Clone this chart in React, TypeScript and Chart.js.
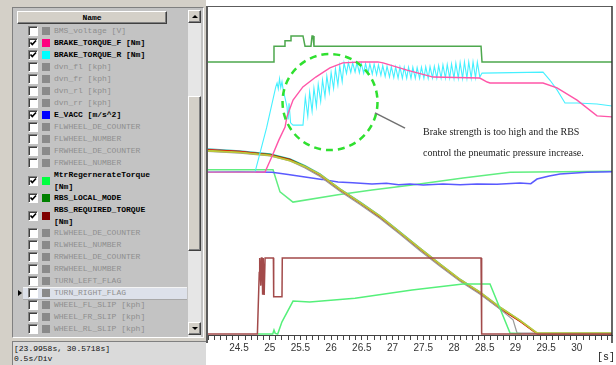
import React, { useEffect, useRef } from 'react';
import { Chart, registerables } from 'chart.js';

Chart.register(...registerables);

type P = [number, number];

// ---------- axis ----------
const X_MIN = 23.9958;
const X_MAX = 30.5718;
const TICK_STEP = 0.1;
const LABEL_FIRST = 24.5;
const LABEL_LAST = 30;
const RANGE_TEXT = '[23.9958s, 30.5718s]';
const DIV_TEXT = '0.5s/Div';
const X_UNIT = '[s]';

// ---------- series (time s, % of full scale) ----------
const rbsLocalMode: P[] = [
  [23.9958, 83.0], [25.07, 83.0], [25.07, 87.8], [25.249, 87.8], [25.249, 89.4], [25.347, 89.4],
  [25.347, 90.9], [25.542, 90.9], [25.575, 87.8], [25.672, 87.8], [25.689, 90.9], [25.705, 90.9],
  [25.721, 87.8], [28.44, 87.8], [28.456, 83.0], [30.5718, 83.0],
];

const brakeTorqueR: P[] = [
  [23.9958, 49.5], [24.761, 49.5], [24.95, 63.0], [25.10, 75.5], [25.12, 76.6], [25.14, 74.8],
  [25.16, 77.9], [25.18, 75.2], [25.20, 77.0], [25.217, 74.8], [25.282, 69.3], [25.30, 65.5],
  [25.315, 70.4], [25.34, 64.5], [25.38, 63.8], [25.542, 63.8],
  [25.58, 72.3], [25.62, 66.5], [25.65, 73.8], [25.69, 68.0], [25.72, 75.0], [25.76, 69.5],
  [25.79, 76.2], [25.83, 71.0], [25.86, 77.5], [25.90, 72.5], [25.93, 78.7], [25.97, 73.8],
  [26.00, 79.8], [26.04, 75.0], [26.07, 80.9], [26.11, 76.0], [26.14, 81.8], [26.18, 77.0],
  [26.21, 82.7], [26.25, 79.5], [26.28, 82.8], [26.32, 79.8], [26.35, 82.7], [26.39, 79.9],
  [26.42, 82.8], [26.46, 79.7], [26.49, 82.6], [26.53, 79.6], [26.56, 82.5], [26.60, 79.5],
  [26.63, 82.4], [26.67, 79.3], [26.70, 82.3], [26.74, 79.1], [26.77, 82.1], [26.81, 78.9],
  [26.84, 81.9], [26.88, 78.6], [26.91, 81.7], [26.95, 78.4], [26.98, 81.6], [27.02, 78.2],
  [27.05, 81.5], [27.09, 78.1], [27.12, 81.5], [27.16, 78.0], [27.19, 81.4], [27.23, 78.0],
  [27.26, 81.4], [27.30, 78.0], [27.33, 81.4], [27.37, 78.0], [27.40, 81.3], [27.44, 78.0],
  [27.47, 81.4], [27.51, 78.0], [27.54, 81.5], [27.58, 78.0], [27.61, 81.6], [27.65, 78.1],
  [27.68, 81.7], [27.72, 78.1], [27.75, 81.9], [27.79, 78.1], [27.82, 82.1], [27.86, 78.1],
  [27.89, 82.2], [27.93, 78.1], [27.96, 82.4], [28.00, 78.0], [28.03, 82.6], [28.07, 78.0],
  [28.10, 82.8], [28.14, 78.0], [28.17, 83.0], [28.21, 78.0], [28.24, 83.0], [28.28, 78.1],
  [28.31, 83.0], [28.35, 78.2], [28.38, 82.9], [28.42, 78.4], [28.45, 79.4],
  [28.456, 79.6], [29.449, 79.9], [29.56, 77.5], [29.677, 74.5], [29.807, 70.5], [30.003, 70.5],
  [30.328, 70.2], [30.5718, 69.6],
];

const brakeTorqueF: P[] = [
  [23.9958, 49.5], [24.924, 49.5], [25.04, 54.4], [25.15, 59.3], [25.25, 63.2], [25.28, 66.3],
  [25.38, 71.4], [25.54, 75.4], [25.75, 78.4], [25.98, 81.2], [26.19, 82.7], [26.47, 83.0],
  [26.76, 83.0], [26.845, 82.7], [27.235, 80.5], [27.66, 78.4], [28.42, 78.1], [28.54, 76.9],
  [28.586, 76.6], [29.449, 76.6], [29.677, 75.1], [30.003, 71.4], [30.328, 66.6], [30.5718, 66.3],
];

const rbsRequiredTorque: P[] = [
  [23.9958, 0.3], [24.80, 0.3], [24.83, 19.0], [24.835, 21.0], [24.84, 23.4], [24.855, 15.0],
  [24.865, 23.4], [24.875, 23.4], [24.88, 12.2], [24.89, 12.2], [24.895, 23.4], [24.905, 23.4],
  [24.91, 12.2], [24.92, 12.2], [24.925, 23.4], [25.06, 23.4], [25.065, 11.6], [25.20, 11.6],
  [25.205, 23.4], [28.44, 23.4], [28.45, 0.3], [30.5718, 0.3],
];

const mtrRegenTorque: P[] = [
  [24.81, 0.3], [25.05, 0.3], [25.07, 1.5], [25.09, 0.5], [25.13, 0.3], [25.20, 4.0],
  [25.38, 10.3], [25.65, 10.0], [26.389, 11.2], [27.317, 13.7], [28.147, 15.5], [28.586, 15.5],
  [28.912, 0.6], [29.1, 0.4],
];

const greenUpper: P[] = [
  [23.9958, 50.2], [25.054, 50.2], [25.168, 43.5], [25.379, 40.4], [26.112, 42.6], [26.665, 44.1],
  [27.317, 45.6], [28.147, 47.7], [28.912, 49.5], [30.5718, 49.8],
];

const eVacc: P[] = [
  [23.9958, 49.5], [24.5, 49.6], [25.038, 49.5], [25.3, 48.8], [25.575, 48.0], [25.85, 47.3],
  [26.112, 46.5], [26.35, 46.3], [26.665, 45.9], [26.9, 46.1], [27.1, 45.7], [27.284, 45.9],
  [27.5, 45.6], [27.82, 45.9], [28.1, 45.7], [28.375, 45.9], [28.7, 45.8], [29.075, 46.2],
  [29.25, 46.0], [29.351, 47.4], [29.55, 48.3], [29.726, 48.9], [30.165, 49.5], [30.5718, 49.6],
];

const wheelFL: P[] = [
  [23.9958, 56.4], [24.517, 55.8], [25.005, 54.8], [25.331, 53.3], [25.575, 51.0], [25.819, 48.5],
  [26.145, 44.0], [26.47, 40.0], [26.796, 35.7], [27.121, 30.9], [27.447, 26.0], [27.772, 21.2],
  [28.098, 16.6], [28.424, 12.6], [28.749, 8.0], [29.075, 4.1], [29.351, 0.3], [30.5718, 0.3],
];
const wheelFR: P[] = [
  [23.9958, 56.0], [24.517, 55.5], [25.005, 54.6], [25.331, 53.0], [25.575, 51.2], [25.819, 48.8],
  [26.145, 44.3], [26.47, 40.3], [26.796, 36.1], [27.121, 31.2], [27.447, 26.3], [27.772, 21.5],
  [28.098, 16.9], [28.424, 13.0], [28.749, 8.4], [29.075, 4.4], [29.351, 0.6], [30.5718, 0.6],
];
const wheelRL: P[] = [
  [23.9958, 56.2], [24.517, 55.7], [25.005, 54.9], [25.331, 53.4], [25.575, 51.3], [25.819, 48.7],
  [26.145, 44.2], [26.47, 40.1], [26.796, 35.8], [27.121, 31.0], [27.447, 26.1], [27.772, 21.3],
  [28.098, 16.7], [28.424, 12.8], [28.749, 8.2], [29.075, 4.2], [29.351, 0.4], [30.5718, 0.4],
];
const wheelRR: P[] = [
  [23.9958, 55.8], [24.517, 55.3], [25.005, 54.4], [25.331, 52.9], [25.575, 50.8], [25.819, 48.2],
  [26.145, 43.7], [26.47, 39.7], [26.796, 35.4], [27.121, 30.6], [27.447, 25.6], [27.772, 20.9],
  [28.098, 16.3], [28.424, 12.4], [28.749, 7.9], [28.961, 4.6], [29.026, 0.6], [29.351, 0.6],
];
const wheelRef: P[] = [
  [23.9958, 56.6], [24.517, 56.0], [25.005, 55.1], [25.331, 53.6], [25.575, 51.5], [25.819, 49.0],
  [26.145, 44.5], [26.47, 40.5], [26.796, 36.3], [27.121, 31.4], [27.447, 26.5], [27.772, 21.7],
  [28.098, 17.0], [28.424, 13.1], [28.749, 8.5], [29.075, 4.5], [29.351, 0.6], [30.5718, 0.6],
];

// ---------- legend list ----------
type Row = { lines: string[]; checked: boolean; color: string; selected?: boolean };
const GREY = '#8a8a8a';
const legendRows: Row[] = [
  { lines: ['BMS_voltage [V]'], checked: false, color: GREY },
  { lines: ['BRAKE_TORQUE_F [Nm]'], checked: true, color: '#ff0080' },
  { lines: ['BRAKE_TORQUE_R [Nm]'], checked: true, color: '#00ffff' },
  { lines: ['dvn_fl [kph]'], checked: false, color: GREY },
  { lines: ['dvn_fr [kph]'], checked: false, color: GREY },
  { lines: ['dvn_rl [kph]'], checked: false, color: GREY },
  { lines: ['dvn_rr [kph]'], checked: false, color: GREY },
  { lines: ['E_VACC [m/s^2]'], checked: true, color: '#0000ff' },
  { lines: ['FLWHEEL_DE_COUNTER'], checked: false, color: GREY },
  { lines: ['FLWHEEL_NUMBER'], checked: false, color: GREY },
  { lines: ['FRWHEEL_DE_COUNTER'], checked: false, color: GREY },
  { lines: ['FRWHEEL_NUMBER'], checked: false, color: GREY },
  { lines: ['MtrRegernerateTorque', '[Nm]'], checked: true, color: '#00ff40' },
  { lines: ['RBS_LOCAL_MODE'], checked: true, color: '#008000' },
  { lines: ['RBS_REQUIRED_TORQUE', '[Nm]'], checked: true, color: '#800000' },
  { lines: ['RLWHEEL_DE_COUNTER'], checked: false, color: GREY },
  { lines: ['RLWHEEL_NUMBER'], checked: false, color: GREY },
  { lines: ['RRWHEEL_DE_COUNTER'], checked: false, color: GREY },
  { lines: ['RRWHEEL_NUMBER'], checked: false, color: GREY },
  { lines: ['TURN_LEFT_FLAG'], checked: false, color: GREY },
  { lines: ['TURN_RIGHT_FLAG'], checked: false, color: GREY, selected: true },
  { lines: ['WHEEL_FL_SLIP [kph]'], checked: false, color: GREY },
  { lines: ['WHEEL_FR_SLIP [kph]'], checked: false, color: GREY },
  { lines: ['WHEEL_RL_SLIP [kph]'], checked: false, color: GREY },
];

const NOTE_LINES = [
  'Brake strength is too high and the RBS',
  'control the pneumatic pressure increase.',
];

const MONO = '"Liberation Mono", "DejaVu Sans Mono", monospace';

function ds(label: string, pts: P[], color: string, width = 1.5) {
  return {
    label,
    data: pts.map(([x, y]) => ({ x, y })),
    borderColor: color,
    backgroundColor: color,
    borderWidth: width,
    pointRadius: 0,
    tension: 0,
    fill: false,
  };
}

const framePlugin = {
  id: 'frame',
  afterDraw(chart: any) {
    const { ctx, chartArea: a } = chart;
    ctx.save();
    ctx.strokeStyle = '#5c5c5c';
    ctx.lineWidth = 2;
    ctx.beginPath();
    ctx.moveTo(a.left - 1, a.top);
    ctx.lineTo(a.left - 1, a.bottom + 8);
    ctx.stroke();
    ctx.lineWidth = 1;
    ctx.beginPath();
    ctx.moveTo(a.left, a.top + 0.5);
    ctx.lineTo(a.right, a.top + 0.5);
    ctx.stroke();
    ctx.strokeStyle = '#333';
    ctx.lineWidth = 1.5;
    ctx.beginPath();
    ctx.moveTo(a.right, a.top);
    ctx.lineTo(a.right, a.bottom + 8);
    ctx.stroke();
    ctx.restore();
  },
};

const annotationPlugin = {
  id: 'note',
  afterDatasetsDraw(chart: any) {
    const { ctx } = chart;
    const xs = chart.scales.x;
    const ys = chart.scales.y;
    const cx = xs.getPixelForValue(25.982);
    const cy = ys.getPixelForValue(70.8);
    const rx = xs.getPixelForValue(25.982 + 0.773) - cx;
    const ry = cy - ys.getPixelForValue(70.8 + 14.6);
    ctx.save();
    ctx.strokeStyle = '#2fe02f';
    ctx.lineWidth = 2.5;
    ctx.setLineDash([7, 5]);
    ctx.beginPath();
    ctx.ellipse(cx, cy, rx, ry, 0, 0, Math.PI * 2);
    ctx.stroke();
    ctx.setLineDash([]);
    ctx.strokeStyle = '#707070';
    ctx.lineWidth = 1.5;
    ctx.beginPath();
    ctx.moveTo(xs.getPixelForValue(26.714), ys.getPixelForValue(67.5));
    ctx.lineTo(xs.getPixelForValue(27.203), ys.getPixelForValue(62.9));
    ctx.stroke();
    ctx.restore();
  },
};

function TraceChart() {
  const ref = useRef<HTMLCanvasElement>(null);
  useEffect(() => {
    if (!ref.current) return;
    const chart = new Chart(ref.current, {
      type: 'line',
      data: {
        datasets: [
          ds('RBS_LOCAL_MODE', rbsLocalMode, '#4ea84e'),
          ds('BRAKE_TORQUE_F', brakeTorqueF, '#ff55a8', 1.4),
          ds('BRAKE_TORQUE_R', brakeTorqueR, '#45f0ff', 1.1),
          ds('RBS_REQUIRED_TORQUE', rbsRequiredTorque, '#a24a4a'),
          ds('MtrRegernerateTorque', mtrRegenTorque, '#55f07a'),
          ds('WHEEL_FR', wheelFR, '#bcc83a', 1.8),
          ds('WHEEL_RR', wheelRR, '#9a9a9a', 1.2),
          ds('WHEEL_FL', wheelFL, '#e00000', 1.1),
          ds('WHEEL_RL', wheelRL, '#1a8a1a', 1.1),
          ds('WHEEL_REF', wheelRef, '#40b8b8', 1.1),
          ds('E_VACC', eVacc, '#5a5aff'),
          ds('AUX', greenUpper, '#60ee80'),
        ],
      },
      options: {
        animation: false,
        responsive: false,
        maintainAspectRatio: false,
        devicePixelRatio: 1,
        layout: { padding: { left: 2, right: 4, top: 6, bottom: 0 } },
        plugins: { legend: { display: false }, tooltip: { enabled: false } },
        scales: {
          x: {
            type: 'linear',
            min: X_MIN,
            max: X_MAX,
            afterFit: (s: any) => { s.height = 30; },
            grid: { drawOnChartArea: false, drawTicks: true, tickLength: 5, color: '#444', lineWidth: 1 },
            border: { display: true, color: '#444', width: 1 },
            ticks: {
              stepSize: TICK_STEP,
              includeBounds: false,
              autoSkip: false,
              maxRotation: 0,
              minRotation: 0,
              padding: 2,
              color: '#333',
              font: { family: '"Liberation Sans", Arial, sans-serif', size: 10 },
              callback: (v: any) => {
                const n = Number(v);
                if (n < LABEL_FIRST - 1e-6 || n > LABEL_LAST + 1e-6) return '';
                if (Math.abs(n * 2 - Math.round(n * 2)) < 1e-6) {
                  const r = Math.round(n * 2) / 2;
                  return Number.isInteger(r) ? String(r) : r.toFixed(1);
                }
                return '';
              },
            },
          },
          y: { type: 'linear', min: 0, max: 100, display: false },
        },
      },
      plugins: [framePlugin, annotationPlugin],
    } as any);
    return () => chart.destroy();
  }, []);
  return <canvas ref={ref} width={410} height={365} style={{ display: 'block' }} />;
}

function CheckBox({ checked }: { checked: boolean }) {
  return (
    <div style={{
      position: 'absolute', left: 27, width: 8, height: 8, background: '#fff',
      borderStyle: 'solid', borderWidth: 1, borderColor: '#808080 #fff #fff #808080',
      boxShadow: 'inset 1px 1px 0 #404040',
    }}>
      {checked && (
        <svg width="8" height="8" style={{ position: 'absolute', left: 0, top: 0 }}>
          <polyline points="1.5,3.5 3.3,5.6 7,1.5" fill="none" stroke="#000" strokeWidth="1.6" />
        </svg>
      )}
    </div>
  );
}

function LegendPanel() {
  let top = 24;
  const items = legendRows.map((r, i) => {
    const h = r.lines.length === 1 ? 12 : 23;
    const rowTop = top;
    top += h;
    const mid = h / 2;
    return (
      <div key={i} style={{ position: 'absolute', left: 0, top: rowTop, width: 186, height: h }}>
        {r.selected && (
          <div style={{
            position: 'absolute', left: 22, top: 0, width: 164, height: h - 1, background: '#dde1ea',
            borderTop: '1px solid #f4f4f4', borderBottom: '1px solid #a8a8a8',
          }} />
        )}
        {r.selected && (
          <div style={{
            position: 'absolute', left: 17, top: mid - 3, width: 0, height: 0,
            borderTop: '3px solid transparent', borderBottom: '3px solid transparent', borderLeft: '4px solid #000',
          }} />
        )}
        <div style={{ position: 'absolute', left: 0, top: mid - 5 }}>
          <CheckBox checked={r.checked} />
        </div>
        <div style={{ position: 'absolute', left: 41, top: mid - 4, width: 8, height: 8, background: r.color }} />
        <div style={{
          position: 'absolute', left: 53, top: 0, fontFamily: MONO, fontSize: 8, lineHeight: r.lines.length === 1 ? '12px' : '11.5px',
          fontWeight: r.checked ? 'bold' : 'normal', color: r.checked ? '#000' : '#8e8e8e', whiteSpace: 'pre',
        }}>
          {r.lines.map((l, k) => <div key={k}>{l}</div>)}
        </div>
      </div>
    );
  });

  const raised = {
    position: 'absolute' as const, background: '#d4d0c8', boxSizing: 'border-box' as const,
    borderStyle: 'solid', borderWidth: 1, borderColor: '#fff #404040 #404040 #fff',
    boxShadow: 'inset -1px -1px 0 #808080',
  };

  return (
    <div style={{ position: 'absolute', left: 0, top: 0, width: 206, height: 365, background: '#d4d0c8' }}>
      <div style={{
        position: 'absolute', left: 12, top: 7, width: 192, height: 331, background: '#c3c3c3',
        boxSizing: 'border-box', borderStyle: 'solid', borderWidth: 1, borderColor: '#808080 #fff #fff #808080',
        overflow: 'hidden',
      }}>
        <div style={{ position: 'absolute', left: -12, top: -7, width: 204, height: 338 }}>
          <div style={{ ...raised, left: 16, top: 10, width: 150, height: 13 }}>
            <div style={{ textAlign: 'center', fontFamily: MONO, fontSize: 8, fontWeight: 'bold', lineHeight: '11px', color: '#000' }}>Name</div>
          </div>
          {items}
          <div style={{ position: 'absolute', left: 187, top: 9, width: 13, height: 327, background: '#e6e6e6' }} />
          <div style={{ ...raised, left: 187, top: 9, width: 13, height: 13 }}>
            <div style={{ position: 'absolute', left: 3, top: 4, width: 0, height: 0, borderLeft: '3px solid transparent', borderRight: '3px solid transparent', borderBottom: '3px solid #000' }} />
          </div>
          <div style={{ ...raised, left: 187, top: 95, width: 13, height: 155 }} />
          <div style={{ ...raised, left: 187, top: 321, width: 13, height: 13 }}>
            <div style={{ position: 'absolute', left: 3, top: 4, width: 0, height: 0, borderLeft: '3px solid transparent', borderRight: '3px solid transparent', borderTop: '3px solid #000' }} />
          </div>
        </div>
      </div>
      <div style={{
        position: 'absolute', left: 12, top: 341, width: 194, height: 24, background: '#dadada',
        boxSizing: 'border-box', borderTop: '1px solid #808080', borderLeft: '1px solid #808080',
        fontFamily: MONO, fontSize: 8, lineHeight: '10px', color: '#111', paddingLeft: 1, paddingTop: 2,
      }}>
        <div>{RANGE_TEXT}</div>
        <div>{DIV_TEXT}</div>
      </div>
    </div>
  );
}

export default function App() {
  return (
    <div style={{ position: 'fixed', left: 0, top: 0, width: 616, height: 365, background: '#d4d0c8', overflow: 'hidden' }}>
      <LegendPanel />
      <div style={{ position: 'absolute', left: 206, top: 0, width: 410, height: 365, background: '#fff' }}>
        <TraceChart />
        {NOTE_LINES.map((t, i) => (
          <div key={i} style={{
            position: 'absolute', left: 217, top: 125 + i * 21, fontFamily: '"Liberation Serif", "DejaVu Serif", serif',
            fontSize: 10, lineHeight: '14px', color: '#222', whiteSpace: 'pre',
          }}>{t}</div>
        ))}
        <div style={{ position: 'absolute', left: 391, top: 352, fontFamily: MONO, fontSize: 10, lineHeight: '12px', color: '#222' }}>{X_UNIT}</div>
      </div>
    </div>
  );
}
